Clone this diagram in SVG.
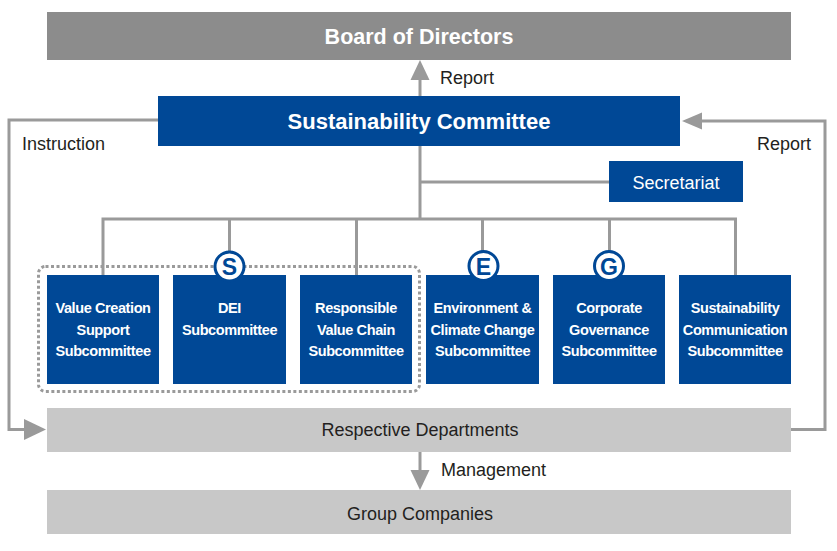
<svg xmlns="http://www.w3.org/2000/svg" width="837" height="551" viewBox="0 0 837 551">
<style>
text{font-family:"Liberation Sans",Arial,sans-serif;text-anchor:middle}
.blue{fill:#004896}
.wb{fill:#fff;font-weight:bold}
.w{fill:#fff}
.dk{fill:#231f20;font-size:18px}
.sub{fill:#fff;font-weight:bold;font-size:14.5px;letter-spacing:-0.4px}
.ln{stroke:#9a9a9a;stroke-width:3;fill:none}
.ah{fill:#9a9a9a}
.badge{fill:#fff;stroke:#004896;stroke-width:3}
.bl{fill:#004896;font-weight:bold;font-size:23px}
</style>
<rect width="837" height="551" fill="#fff"/>
<g id="connectors">
  <line class="ln" x1="420" y1="96" x2="420" y2="76"/>
  <polygon class="ah" points="420,60 410.5,80 429.5,80"/>
  <polyline class="ln" points="158,120 9,120 9,429.5 30,429.5"/>
  <polygon class="ah" points="46,429.5 24,419 24,440"/>
  <polyline class="ln" points="791,429.5 825,429.5 825,121 698,121"/>
  <polygon class="ah" points="682,121 702,112.5 702,129.5"/>
  <line class="ln" x1="420" y1="146" x2="420" y2="219"/>
  <line class="ln" x1="420" y1="182" x2="609" y2="182"/>
  <polyline class="ln" points="103,275 103,219 735.5,219 735.5,275"/>
  <line class="ln" x1="229.5" y1="219" x2="229.5" y2="255"/>
  <line class="ln" x1="356.5" y1="219" x2="356.5" y2="275"/>
  <line class="ln" x1="482.5" y1="219" x2="482.5" y2="255"/>
  <line class="ln" x1="609.5" y1="219" x2="609.5" y2="255"/>
  <line class="ln" x1="420" y1="452" x2="420" y2="472"/>
  <polygon class="ah" points="420,490 410.5,470 429.5,470"/>
  <text class="dk" x="440" y="84" style="text-anchor:start">Report</text>
  <text class="dk" x="22" y="150" style="text-anchor:start">Instruction</text>
  <text class="dk" x="757" y="150" style="text-anchor:start">Report</text>
  <text class="dk" x="441" y="476" style="text-anchor:start">Management</text>
</g>
<g id="board">
  <rect x="47" y="12" width="744" height="48" fill="#8c8c8c"/>
  <text class="wb" x="419" y="44" font-size="21.5">Board of Directors</text>
</g>
<g id="committee">
  <rect class="blue" x="158" y="96" width="522" height="50"/>
  <text class="wb" x="419" y="129" font-size="22">Sustainability Committee</text>
</g>
<g id="secretariat">
  <rect class="blue" x="609" y="161" width="134" height="41"/>
  <text class="w" x="676" y="189" font-size="18">Secretariat</text>
</g>
<g id="s-group">
  <rect x="38.5" y="266.5" width="381" height="125" rx="7" fill="none" stroke="#9a9a9a" stroke-width="3" stroke-dasharray="3 2.5"/>
</g>
<g id="sub-value">
  <rect class="blue" x="47" y="275" width="112" height="109"/>
  <text class="sub" x="103" y="313">Value Creation</text>
  <text class="sub" x="103" y="334.5">Support</text>
  <text class="sub" x="103" y="356">Subcommittee</text>
</g>
<g id="sub-dei">
  <rect class="blue" x="173" y="275" width="113" height="109"/>
  <text class="sub" x="229.5" y="313">DEI</text>
  <text class="sub" x="229.5" y="334.5">Subcommittee</text>
</g>
<g id="sub-chain">
  <rect class="blue" x="300" y="275" width="112" height="109"/>
  <text class="sub" x="356" y="313">Responsible</text>
  <text class="sub" x="356" y="334.5">Value Chain</text>
  <text class="sub" x="356" y="356">Subcommittee</text>
</g>
<g id="sub-env">
  <rect class="blue" x="426" y="275" width="113" height="109"/>
  <text class="sub" x="482.5" y="313">Environment &amp;</text>
  <text class="sub" x="482.5" y="334.5">Climate Change</text>
  <text class="sub" x="482.5" y="356">Subcommittee</text>
</g>
<g id="sub-gov">
  <rect class="blue" x="553" y="275" width="112" height="109"/>
  <text class="sub" x="609" y="313">Corporate</text>
  <text class="sub" x="609" y="334.5">Governance</text>
  <text class="sub" x="609" y="356">Subcommittee</text>
</g>
<g id="sub-comm">
  <rect class="blue" x="679" y="275" width="112" height="109"/>
  <text class="sub" x="735" y="313">Sustainability</text>
  <text class="sub" x="735" y="334.5">Communication</text>
  <text class="sub" x="735" y="356">Subcommittee</text>
</g>
<g id="badge-s">
  <circle class="badge" cx="229.5" cy="266.5" r="14.5"/>
  <text class="bl" x="229.5" y="275">S</text>
</g>
<g id="badge-e">
  <circle class="badge" cx="483.5" cy="266" r="14.5"/>
  <text class="bl" x="483.5" y="274.5">E</text>
</g>
<g id="badge-g">
  <circle class="badge" cx="609" cy="266" r="14.5"/>
  <text class="bl" x="609" y="274.5">G</text>
</g>
<g id="departments">
  <rect x="47" y="408" width="744" height="44" fill="#c8c8c8"/>
  <text class="dk" x="420" y="436">Respective Departments</text>
</g>
<g id="group-companies">
  <rect x="47" y="490" width="744" height="44" fill="#c8c8c8"/>
  <text class="dk" x="420" y="520">Group Companies</text>
</g>
</svg>
